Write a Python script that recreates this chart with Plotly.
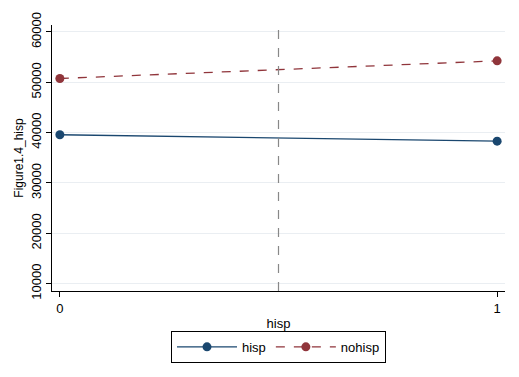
import plotly.graph_objects as go

x_vals = [0, 1]
hisp = [39580, 38300]
nohisp = [50760, 54270]
y_ticks = [10000, 20000, 30000, 40000, 50000, 60000]
y_ticktext = ["10000", "20000", "30000", "40000", "50000", "60000"]
x_ticks = [0, 1]
ref_x = 0.5

BLUE = "#1a476f"
RED = "#90353b"
FONT = "Liberation Sans, Arial, sans-serif"

fig = go.Figure()
fig.add_trace(go.Scatter(x=x_vals, y=hisp, mode="lines+markers", name="hisp",
                         line=dict(color=BLUE, width=1.3),
                         marker=dict(color=BLUE, size=9)))
fig.add_trace(go.Scatter(x=x_vals, y=nohisp, mode="lines+markers", name="nohisp",
                         line=dict(color=RED, width=1.3, dash="dash"),
                         marker=dict(color=RED, size=9)))

fig.add_shape(type="line", x0=ref_x, x1=ref_x, y0=0, y1=1, xref="x", yref="paper",
              line=dict(color="#888888", width=1.2, dash="dash"))

fig.update_layout(
    width=519, height=377,
    margin=dict(l=52, r=14, t=14, b=86),
    paper_bgcolor="white", plot_bgcolor="white",
    font=dict(family=FONT, size=12, color="black"),
    showlegend=True,
    legend=dict(orientation="h", x=0.5, xanchor="center", y=-0.15, yanchor="top",
                bordercolor="black", borderwidth=1, font=dict(size=13),
                itemwidth=60, tracegroupgap=0),
    xaxis=dict(range=[-0.018, 1.018], tickvals=x_ticks, ticks="outside", ticklen=5,
               tickcolor="black", showline=True, linecolor="black", linewidth=1,
               showgrid=False, zeroline=False, tickfont=dict(size=13),
               title=dict(text="hisp", font=dict(size=13), standoff=4)),
    yaxis=dict(range=[8530, 61390], tickvals=y_ticks, ticktext=y_ticktext,
               ticks="outside", ticklen=5,
               tickcolor="black", showline=True, linecolor="black", linewidth=1,
               showgrid=True, gridcolor="#eaeef2", gridwidth=1, zeroline=False,
               tickangle=-90, tickfont=dict(size=13),
               title=dict(text="Figure1.4_hisp", font=dict(size=12), standoff=2)),
)

fig.write_html("out.html")
